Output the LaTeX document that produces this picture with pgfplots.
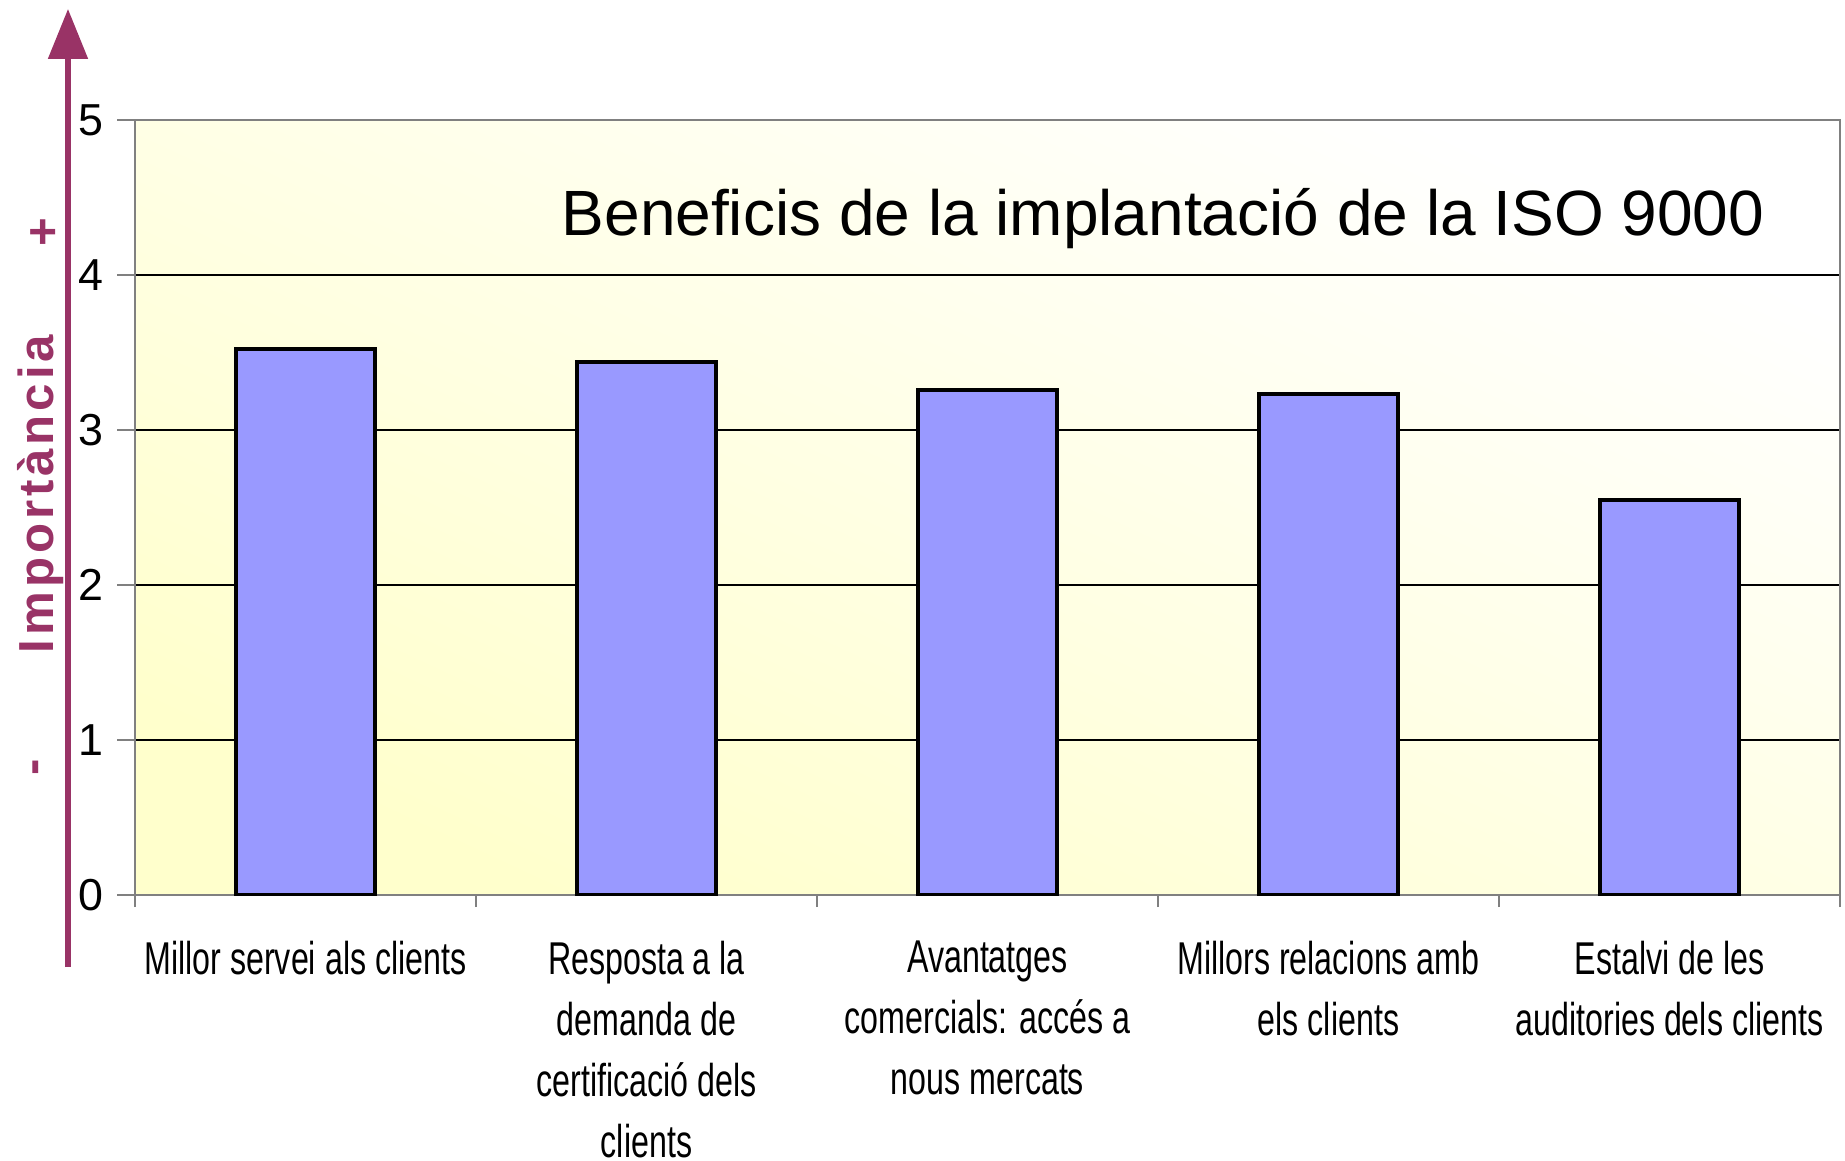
\documentclass[border=0pt]{standalone}
\usepackage{fontspec}
\setmainfont{Liberation Sans}
\newfontfamily\narrowfont[FakeStretch=0.70]{Liberation Sans}
\usepackage{pgfplots}
\pgfplotsset{compat=1.18}
\usetikzlibrary{arrows.meta}
\definecolor{barblue}{RGB}{153,153,255}
\definecolor{purp}{RGB}{153,51,102}
\definecolor{bgyellow}{RGB}{255,255,204}
\begin{document}
\begin{tikzpicture}
\begin{axis}[
  at={(33.75pt,66.25pt)}, anchor=south west,
  scale only axis, width=426.25pt, height=193.75pt,
  xmin=0.5, xmax=5.5, ymin=0, ymax=5,
  axis background/.style={shade, top color=white, bottom color=bgyellow, shading angle=-25},
  ytick={0,1,2,3,4,5},
  xtick={0.5,1.5,2.5,3.5,4.5,5.5},
  xticklabels={},
  extra x ticks={1,2,3,4,5},
  extra x tick labels={Millor servei als clients,
    {Resposta a la\\demanda de\\certificació dels\\clients},
    {Avantatges\\comercials: accés a\\nous mercats},
    {Millors relacions amb\\els clients},
    {Estalvi de les\\auditories dels clients}},
  extra x tick style={tick style={draw=none}},
  tick pos=left,
  xtick style={/pgfplots/major tick length=3pt},
  ytick style={/pgfplots/major tick length=4.4pt},
  tick align=outside,
  tick style={gray, line width=0.4pt},
  xticklabel style={font=\narrowfont\fontsize{11.5}{15.25}\selectfont, align=center, yshift=-3.7pt},
  yticklabel style={font=\fontsize{11.2}{13}\selectfont},
  /pgf/number format/assume math mode=true,
  ymajorgrids, grid style={black, line width=0.3pt},
  axis line style={gray, line width=0.6pt},
  ybar, bar width=0.41,
]
\addplot[fill=barblue, draw=black, line width=1pt] coordinates {(1,3.52) (2,3.44) (3,3.26) (4,3.23) (5,2.55)};
\end{axis}
\node[font=\fontsize{16}{18}\selectfont] at (290.75pt,235.3pt) {Beneficis de la implantació de la ISO 9000};
\draw[purp, line width=1.3pt, -{Triangle[width=9.75pt,length=12.5pt]}] (17pt,48.25pt) -- (17pt,287.75pt);
\node[rotate=90, text=purp, font=\bfseries\fontsize{12.3}{14}\selectfont\addfontfeature{LetterSpace=8}] at (10.25pt,166.5pt) {Importància};
\node[rotate=90, text=purp, font=\bfseries\fontsize{12.3}{14}\selectfont] at (11.25pt,232pt) {+};
\node[rotate=90, text=purp, font=\bfseries\fontsize{12.3}{14}\selectfont] at (10.25pt,98.25pt) {-};
\pgfresetboundingbox
\path (0,0) rectangle (461.25pt,290pt);
\end{tikzpicture}
\end{document}
